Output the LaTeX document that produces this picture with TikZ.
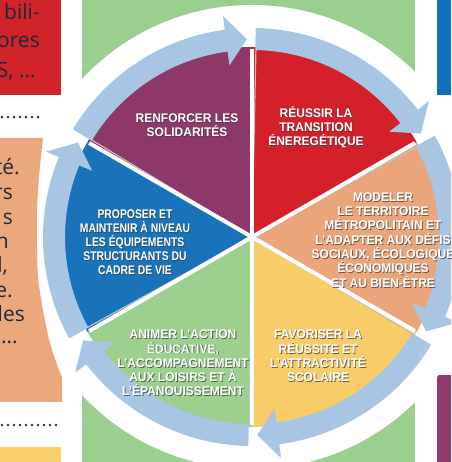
\documentclass[tikz,border=0pt]{standalone}
\usepackage{fontspec}
\setmainfont{Liberation Sans}
\newfontfamily\opensans{Open Sans}
\newfontfamily\lab{Liberation Sans}[FakeStretch=0.96]
\newfontfamily\labn{Liberation Sans}[FakeStretch=0.83]
\usetikzlibrary{calc}
\definecolor{bggreen}{HTML}{9BCF8F}
\definecolor{boxred}{HTML}{D1232A}
\definecolor{boxorange}{HTML}{EBA87D}
\definecolor{boxblue}{HTML}{0E72BA}
\definecolor{boxpurple}{HTML}{923A6B}
\definecolor{boxyellow}{HTML}{F9CF6C}
\definecolor{navy}{HTML}{1B2A3A}
\definecolor{secpurple}{HTML}{8E3769}
\definecolor{secred}{HTML}{D3202A}
\definecolor{secorange}{HTML}{EBA57A}
\definecolor{secyellow}{HTML}{F8CC68}
\definecolor{secgreen}{HTML}{9DD08E}
\definecolor{secblue}{HTML}{1873BA}
\definecolor{ringblue}{HTML}{A8C5E4}
\tikzset{
  lefttext/.style={font=\opensans\fontsize{21}{21}\selectfont, text=navy, anchor=base east, inner sep=0pt},
  seclab/.style={font=\lab\bfseries\fontsize{12.5}{14.3}\selectfont, text=white, align=center, inner sep=0pt},
  seclabshadow/.style={seclab, text=black!75, text opacity=0.75},
  narrowlab/.style={font=\labn\bfseries\fontsize{12.5}{14}\selectfont},
  dotline/.style={navy, line width=2.6pt, line cap=round, dash pattern=on 0pt off 6pt}
}
\newcommand\seclabel[4]{%
  \node[seclabshadow,#3] (#1s) at ($(#2)+(0.9pt,-0.9pt)$) {#4};
  \node[seclab,#3] (#1) at (#2) {#4};}
\begin{document}
\begin{tikzpicture}[x=1pt,y=1pt]
\useasboundingbox (0,0) rectangle (451,462);
\clip (0,0) rectangle (451,462);
% background column boxes
\fill[bggreen] (82,0) rectangle (415,462);
\fill[boxred] (0,367) rectangle (61,462);
\fill[boxblue] (437,367) rectangle (451,462);
\fill[boxpurple] (437,0) rectangle (451,87);
\fill[boxyellow] (0,0) rectangle (61,15);
% white halo
\coordinate (C) at (252,225);
\fill[white] (C) circle[radius=232pt];
% orange box
\fill[boxorange] (0,324) -- plot[smooth] coordinates {(43,324) (39,285) (37,252) (37,219) (38,185) (43,152) (50,119) (59,92) (62,85)} -- (62,60) -- (0,60) -- cycle;
% dotted separators
\draw[dotline] (2,345) -- (40,345);
\draw[dotline] (2,37) -- (56,37);
% left column text fragments
\node[lefttext] (r1) at (40,442) {bili-};
\node[lefttext] (r2) at (40,414) {ores};
\node[lefttext] (r3) at (36,384) {S, ...};
\node[lefttext] (o1) at (20,287) {té.};
\node[lefttext] (o2) at (13,262) {rs};
\node[lefttext] (o3) at (13,237) {s};
\node[lefttext] (o4) at (9,213) {n};
\node[lefttext] (o5) at (8,189) {d,};
\node[lefttext] (o6) at (13,164) {e.};
\node[lefttext] (o7) at (25,140) {les};
\node[lefttext] (o8) at (18,118) {...};
% pie sectors
\foreach \a/\c in {90/secpurple, 30/secred, -30/secorange, -90/secyellow, -150/secgreen, 150/secblue}{
  \fill[\c] (C) -- ($(C)+(\a:190pt)$) arc[start angle=\a, end angle=\a+60, radius=190pt] -- cycle;
}
\foreach \a in {90,30,-30,-90,-150,150}{
  \draw[black!25, line width=1.2pt] ($(C)+(\a-1.2:6pt)$) -- ($(C)+(\a-1.2:188pt)$);
  \draw[white, line width=4pt] (C) -- ($(C)+(\a:188pt)$);
}
% ring of arrows
\foreach \e in {90,30,-30,-90,-150,150}{
  \pgfmathsetmacro\s{\e+59}
  \pgfmathsetmacro\b{\e+7.5}
  \pgfmathsetmacro\t{\e+1.5}
  \fill[ringblue] ($(C)+(\s:209pt)$) arc[start angle=\s, end angle=\b, radius=209pt]
     -- ($(C)+(\b:223pt)$) -- ($(C)+(\t:198pt)$) -- ($(C)+(\b:173pt)$)
     -- ($(C)+(\b:187pt)$) arc[start angle=\b, end angle=\s, radius=187pt] -- cycle;
}
% labels
\seclabel{lpurple}{187,337}{}{RENFORCER LES\\SOLIDARITÉS}
\seclabel{lred}{316,335}{}{RÉUSSIR LA\\TRANSITION\\ÉNEREGÉTIQUE}
\seclabel{lorange}{383,222}{}{MODELER\\LE TERRITOIRE\\MÉTROPOLITAIN ET\\L’ADAPTER AUX DÉFIS\\SOCIAUX, ÉCOLOGIQUE\\ÉCONOMIQUES\\ET AU BIEN-ÊTRE}
\seclabel{lyellow}{318,106}{}{FAVORISER LA\\RÉUSSITE ET\\L’ATTRACTIVITÉ\\SCOLAIRE}
\seclabel{lgreen}{183,99}{}{ANIMER L’ACTION\\ÉDUCATIVE,\\L’ACCOMPAGNEMENT\\AUX LOISIRS ET À\\L’ÉPANOUISSEMENT}
\seclabel{lblue}{135,220}{narrowlab}{PROPOSER ET\\MAINTENIR À NIVEAU\\LES ÉQUIPEMENTS\\STRUCTURANTS DU\\CADRE DE VIE}
\end{tikzpicture}
\end{document}
